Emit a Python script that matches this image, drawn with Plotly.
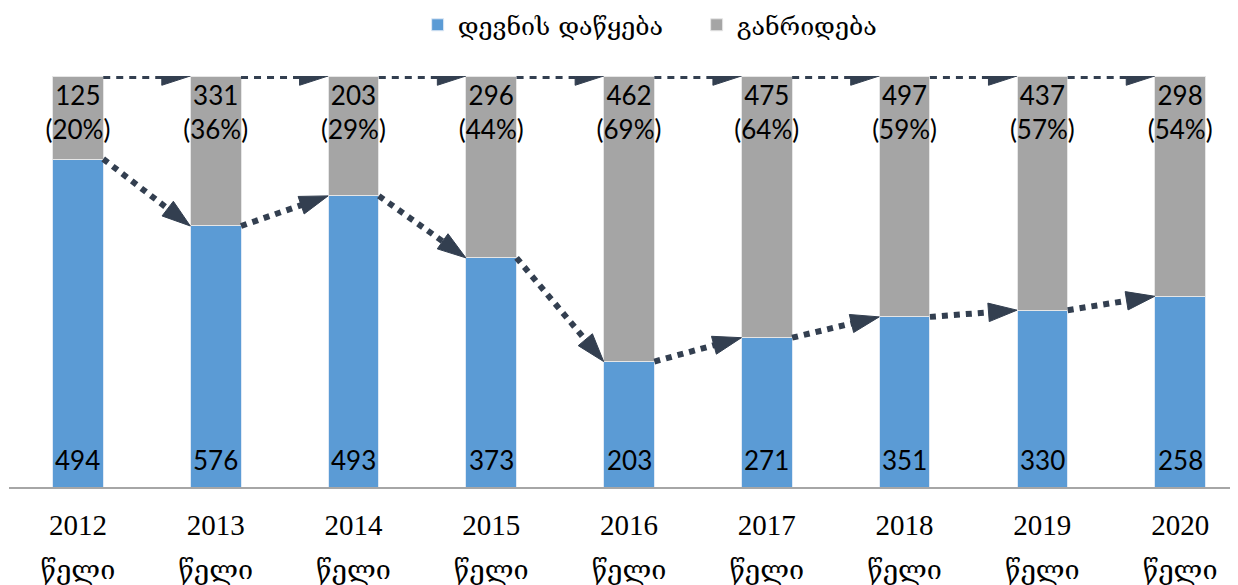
import plotly.graph_objects as go

# ── data ─────────────────────────────────────
years = [2012, 2013, 2014, 2015, 2016, 2017, 2018, 2019, 2020]
year_word = "წელი"
devnis_dackeba = [494, 576, 493, 373, 203, 271, 351, 330, 258]   # blue
ganrideba = [125, 331, 203, 296, 462, 475, 497, 437, 298]        # gray

BLUE = "#5B9BD5"
GRAY = "#A5A5A5"
ARROW = "#333F50"
BAR_W = 0.368
LABEL_FONT = dict(family="Lato, Liberation Sans", size=26, color="black")

x = list(range(len(years)))
tick_labels = [f"<span style='font-size:29px'>{y}</span><br>"
               f"<span style='font-size:27px'>{year_word}</span>" for y in years]
totals = [a + b for a, b in zip(devnis_dackeba, ganrideba)]
blue_share = [a / t for a, t in zip(devnis_dackeba, totals)]
gray_text = [f"{g}<br>({round(100 * g / t)}%)" for g, t in zip(ganrideba, totals)]

fig = go.Figure()

fig.add_trace(go.Bar(
    x=x, y=devnis_dackeba, name="დევნის დაწყება",
    width=BAR_W, marker=dict(color=BLUE, line=dict(color="#dfe9f5", width=1)),
    hoverinfo="y",
))
fig.add_trace(go.Bar(
    x=x, y=ganrideba, name="განრიდება",
    width=BAR_W, marker=dict(color=GRAY, line=dict(color="#e6e6e6", width=1)),
    text=gray_text, textposition="inside",
    insidetextanchor="end", constraintext="none",
    textfont=LABEL_FONT,
))

# blue values sit near the base of each bar
for xi, v in zip(x, devnis_dackeba):
    fig.add_annotation(x=xi, y=0, text=str(v), showarrow=False,
                       yanchor="middle", yshift=27, font=LABEL_FONT)

# dotted arrows between blue tops, dashed arrows along the top
half = BAR_W / 2
arrow_marker = dict(symbol="arrow", size=[0, 30], angleref="previous", color=ARROW,
                    opacity=1, line=dict(color=ARROW, width=1))
for i in range(len(x) - 1):
    fig.add_trace(go.Scatter(
        x=[x[i] + half, x[i + 1] - half], y=[blue_share[i], blue_share[i + 1]],
        mode="lines+markers", showlegend=False, hoverinfo="skip",
        line=dict(color=ARROW, width=6, dash="6px,6px"),
        marker=arrow_marker,
    ))
    fig.add_trace(go.Scatter(
        x=[x[i] + half, x[i + 1] - half], y=[1, 1],
        mode="lines+markers", showlegend=False, hoverinfo="skip",
        line=dict(color=ARROW, width=6, dash="7px,6px"),
        marker=arrow_marker,
    ))

# page body adds an 8px offset, so the figure is sized for what remains visible
fig.update_layout(
    barmode="stack",
    barnorm="fraction",
    width=1230, height=577,
    margin=dict(l=1, r=0, t=68, b=98, autoexpand=False),
    plot_bgcolor="white", paper_bgcolor="white",
    legend=dict(
        orientation="h", traceorder="normal",
        x=0.3325, xanchor="left", y=1.124, yanchor="middle",
        font=dict(family="DejaVu Serif, Liberation Serif", size=25, color="black"),
        entrywidth=234, entrywidthmode="pixels",
    ),
    xaxis=dict(
        range=[-0.5, 8.42], tickvals=x, ticktext=tick_labels,
        showline=True, linecolor="#a6a6a6", linewidth=1.5,
        showgrid=False, zeroline=False, ticks="", automargin=False,
        ticklabelstandoff=5,
        tickfont=dict(family="Liberation Serif, DejaVu Serif", size=34, color="black"),
    ),
    yaxis=dict(range=[0, 1], visible=False, showgrid=False, zeroline=False,
               automargin=False),
)

fig.write_html("out.html")
